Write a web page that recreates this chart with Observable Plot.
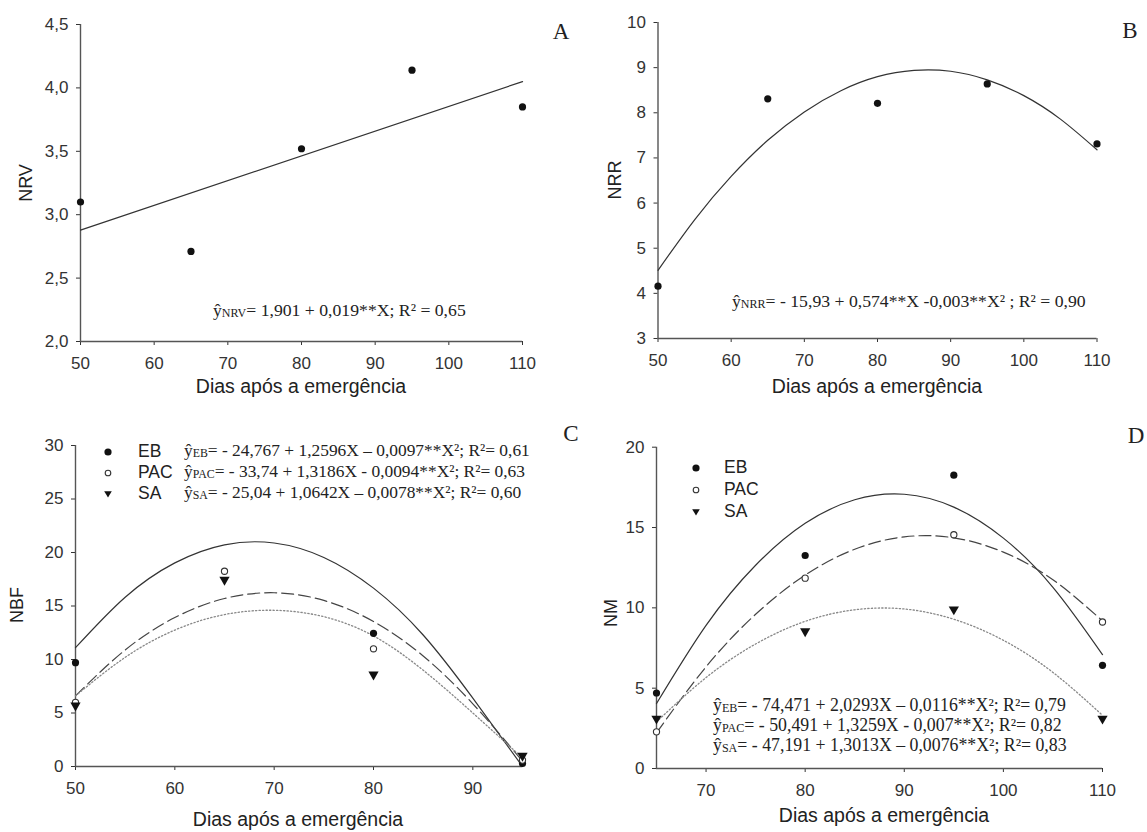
<!DOCTYPE html>
<html><head><meta charset="utf-8">
<script src="https://cdn.jsdelivr.net/npm/d3@7"></script>
<script src="https://cdn.jsdelivr.net/npm/@observablehq/plot@0.6"></script>
<style>
body{margin:0;background:#fff}
#root{position:relative;width:1147px;height:832px;overflow:hidden}
#ov{position:absolute;left:0;top:0;pointer-events:none}
</style>
</head><body><div id="root"></div>
<script>
// ---------- data ----------
const daysAB = [50, 65, 80, 95, 110];
const nrv = [3.10, 2.71, 3.52, 4.14, 3.85];
const nrr = [4.16, 8.31, 8.21, 8.64, 7.31];
const nrrFitX = [50, 55, 60, 65, 70, 75, 80, 85, 90, 95, 100, 105, 110];
const nrrFit = [4.51, 5.63, 6.59, 7.39, 8.02, 8.49, 8.80, 8.94, 8.92, 8.73, 8.38, 7.86, 7.18];

const daysC = [50, 65, 80, 95];
const nbfEB = [9.7, null, 12.45, 0.28];
const nbfPAC = [6.0, 18.25, 11.0, 0.6];
const nbfSA = [5.7, 17.45, 8.6, 1.0];
const nbfFitX = [50, 55, 60, 65, 70, 75, 80, 85, 90, 95];
const nbfFitEB = [11.10, 15.82, 19.03, 20.72, 20.89, 19.54, 16.67, 12.29, 6.39, 0.0];
const nbfFitPAC = [6.60, 10.89, 13.92, 15.70, 16.24, 15.52, 13.55, 10.33, 5.86, 0.5];
const nbfFitSA = [6.60, 10.2, 12.75, 14.2, 14.6, 14.0, 12.2, 9.0, 5.0, 0.8];

const daysD = [65, 80, 95, 110];
const nmEB = [4.7, 13.26, 18.26, 6.42];
const nmPAC = [2.28, 11.85, 14.55, 9.12];
const nmSA = [3.1, 8.54, 9.9, 3.1];
const nmFitX = [65, 70, 75, 80, 85, 90, 95, 100, 105, 110];
const nmFitEB = [4.04, 8.91, 12.65, 15.26, 16.73, 17.07, 16.27, 14.34, 11.28, 7.09];
const nmFitPAC = [2.22, 6.33, 9.60, 12.04, 13.65, 14.42, 14.36, 13.47, 11.75, 9.19];
const nmFitSA = [2.90, 5.66, 7.75, 9.16, 9.88, 9.93, 9.29, 7.98, 5.98, 3.31];

const ticksXA = [50, 60, 70, 80, 90, 100, 110];
const ticksYA = [2.0, 2.5, 3.0, 3.5, 4.0, 4.5];
const ticksYB = [3, 4, 5, 6, 7, 8, 9, 10];
const ticksXC = [50, 60, 70, 80, 90];
const ticksYC = [0, 5, 10, 15, 20, 25, 30];
const ticksXD = [70, 80, 90, 100, 110];
const ticksYD = [0, 5, 10, 15, 20];
const seriesNames = ["EB", "PAC", "SA"];
const xTitle = "Dias após a emergência";

// ---------- helpers ----------
const root = document.getElementById("root");
const sans = "'Liberation Sans', Arial, sans-serif";
const serif = "'Liberation Serif', 'Times New Roman', serif";
const comma1 = d => d.toFixed(1).replace(".", ",");
const intFmt = d => String(d);
const tbl = (xs, ys) => xs.map((x, i) => ({x, y: ys[i]})).filter(d => d.y != null);

function panel(o) {
  const p = Plot.plot({
    width: o.width, height: o.height,
    marginLeft: o.mL, marginRight: o.mR, marginTop: o.mT, marginBottom: o.mB,
    style: {fontFamily: sans, fontSize: "17px", color: "#333", background: "transparent", overflow: "visible"},
    x: {domain: o.xDom}, y: {domain: o.yDom},
    marks: [
      Plot.axisX({ticks: o.xTicks, tickSize: 4, tickPadding: 11, label: null, tickFormat: intFmt}),
      Plot.axisY({ticks: o.yTicks, tickSize: 4, tickPadding: 8, label: null, tickFormat: o.yFmt || intFmt}),
      Plot.ruleY([o.yDom[0]], {stroke: "#555", strokeWidth: 1.4}),
      Plot.ruleX([o.xDom[0]], {stroke: "#555", strokeWidth: 1.4}),
      ...o.marks
    ]
  });
  p.style.position = "absolute";
  p.style.left = o.left + "px";
  p.style.top = o.top + "px";
  root.appendChild(p);
}

const solid = {x: "x", y: "y", stroke: "#333", strokeWidth: 1.2, curve: "natural"};
const dashed = {x: "x", y: "y", stroke: "#444", strokeWidth: 1.2, strokeDasharray: "12,5", curve: "natural"};
const dotted = {x: "x", y: "y", stroke: "#888", strokeWidth: 1.3, strokeDasharray: "1.3,2.2", curve: "natural"};
const filledDot = {x: "x", y: "y", r: 3.6, fill: "#111"};
const openDot = {x: "x", y: "y", r: 3.1, fill: "#fff", stroke: "#333", strokeWidth: 1.1};
const triDot = {x: "x", y: "y", r: 3.8, symbol: "triangle", rotate: 180, fill: "#111"};

// ---------- panel A ----------
panel({left: 0, top: 0, width: 573, height: 400, mL: 80, mR: 51, mT: 24, mB: 59,
  xDom: [50, 110], xTicks: ticksXA, yDom: [2, 4.5], yTicks: ticksYA, yFmt: comma1,
  marks: [
    Plot.linearRegressionY(tbl(daysAB, nrv), {x: "x", y: "y", ci: 0, stroke: "#333", strokeWidth: 1.2}),
    Plot.dot(tbl(daysAB, nrv), filledDot)
  ]});

// ---------- panel B ----------
panel({left: 573, top: 0, width: 574, height: 400, mL: 84.5, mR: 50.5, mT: 22, mB: 62,
  xDom: [50, 110], xTicks: ticksXA, yDom: [3, 10], yTicks: ticksYB,
  marks: [
    Plot.line(tbl(nrrFitX, nrrFit), solid),
    Plot.dot(tbl(daysAB, nrr), filledDot)
  ]});

// ---------- panel C ----------
panel({left: 0, top: 400, width: 573, height: 432, mL: 75, mR: 51, mT: 45, mB: 66,
  xDom: [50, 95], xTicks: ticksXC, yDom: [0, 30], yTicks: ticksYC,
  marks: [
    Plot.line(tbl(nbfFitX, nbfFitEB), solid),
    Plot.line(tbl(nbfFitX, nbfFitPAC), dashed),
    Plot.line(tbl(nbfFitX, nbfFitSA), dotted),
    Plot.dot(tbl(daysC, nbfEB), filledDot),
    Plot.dot(tbl(daysC, nbfPAC), openDot),
    Plot.dot(tbl(daysC, nbfSA), triDot)
  ]});

// ---------- panel D ----------
panel({left: 573, top: 400, width: 574, height: 432, mL: 83, mR: 45, mT: 46.7, mB: 64,
  xDom: [65, 110], xTicks: ticksXD, yDom: [0, 20], yTicks: ticksYD,
  marks: [
    Plot.line(tbl(nmFitX, nmFitEB), solid),
    Plot.line(tbl(nmFitX, nmFitPAC), dashed),
    Plot.line(tbl(nmFitX, nmFitSA), dotted),
    Plot.dot(tbl(daysD, nmEB), filledDot),
    Plot.dot(tbl(daysD, nmPAC), openDot),
    Plot.dot(tbl(daysD, nmSA), triDot)
  ]});

// ---------- overlay: titles, letters, legends, equations ----------
const ov = d3.create("svg").attr("id", "ov").attr("width", 1147).attr("height", 832);
function txt(x, y, s, o = {}) {
  const t = ov.append("text").attr("x", x).attr("y", y)
    .attr("font-family", o.family || sans).attr("font-size", o.size || 17)
    .attr("fill", o.fill || "#222").attr("text-anchor", o.anchor || "start")
    .attr("dominant-baseline", "middle").text(s);
  if (o.rotate) t.attr("transform", `rotate(-90,${x},${y})`);
  return t;
}
function eq(x, y, sub, rest, size) {
  const t = ov.append("text").attr("x", x).attr("y", y)
    .attr("font-family", serif).attr("font-size", size).attr("fill", "#222")
    .attr("dominant-baseline", "middle");
  t.append("tspan").text("ŷ");
  t.append("tspan").attr("font-size", size * 0.68).attr("dy", 2).text(sub);
  t.append("tspan").attr("dy", -2).text(rest);
}
function sym(kind, x, y) {
  if (kind === 0) ov.append("circle").attr("cx", x).attr("cy", y).attr("r", 3.6).attr("fill", "#111");
  else if (kind === 1) ov.append("circle").attr("cx", x).attr("cy", y).attr("r", 2.8).attr("fill", "#fff").attr("stroke", "#333").attr("stroke-width", 1.1);
  else ov.append("path").attr("d", `M${x - 3.8},${y - 2.8}L${x + 3.8},${y - 2.8}L${x},${y + 3.6}Z`).attr("fill", "#111");
}

// axis titles
txt(301, 388, xTitle, {anchor: "middle", size: 19.5});
txt(877, 388, xTitle, {anchor: "middle", size: 19.5});
txt(298, 821, xTitle, {anchor: "middle", size: 19.5});
txt(884, 817, xTitle, {anchor: "middle", size: 19.5});
txt(27, 183, "NRV", {anchor: "middle", size: 18, rotate: true});
txt(616, 180, "NRR", {anchor: "middle", size: 18, rotate: true});
txt(18, 605, "NBF", {anchor: "middle", size: 18, rotate: true});
txt(612, 613, "NM", {anchor: "middle", size: 18, rotate: true});

// panel letters
txt(561, 34, "A", {family: serif, size: 23, anchor: "middle"});
txt(1130, 33, "B", {family: serif, size: 23, anchor: "middle"});
txt(571, 436, "C", {family: serif, size: 23, anchor: "middle"});
txt(1136, 438, "D", {family: serif, size: 23, anchor: "middle"});

// equations A, B
eq(213, 312, "NRV", "= 1,901 + 0,019**X; R² = 0,65", 17.7);
eq(732, 303, "NRR", "= - 15,93 + 0,574**X -0,003**X² ; R² = 0,90", 17.7);

// legend C
const rowsC = [452, 473, 494];
const eqC = ["= - 24,767 + 1,2596X – 0,0097**X²; R²= 0,61",
             "= - 33,74 + 1,3186X - 0,0094**X²; R²= 0,63",
             "= - 25,04 + 1,0642X – 0,0078**X²; R²= 0,60"];
seriesNames.forEach((n, i) => {
  sym(i, 108, rowsC[i]);
  txt(138, rowsC[i], n, {size: 17.5});
  eq(184, rowsC[i], n, eqC[i], 17.4);
});

// legend D
const rowsD = [468, 490, 512];
seriesNames.forEach((n, i) => {
  sym(i, 696, rowsD[i]);
  txt(724, rowsD[i], n, {size: 17.5});
});
const rowsDeq = [707, 727, 747];
const eqD = ["= - 74,471 + 2,0293X – 0,0116**X²; R²= 0,79",
             "= - 50,491 + 1,3259X - 0,007**X²; R²= 0,82",
             "= - 47,191 + 1,3013X – 0,0076**X²; R²= 0,83"];
seriesNames.forEach((n, i) => eq(713, rowsDeq[i], n, eqD[i], 17.8));

root.appendChild(ov.node());
</script>
</body></html>
